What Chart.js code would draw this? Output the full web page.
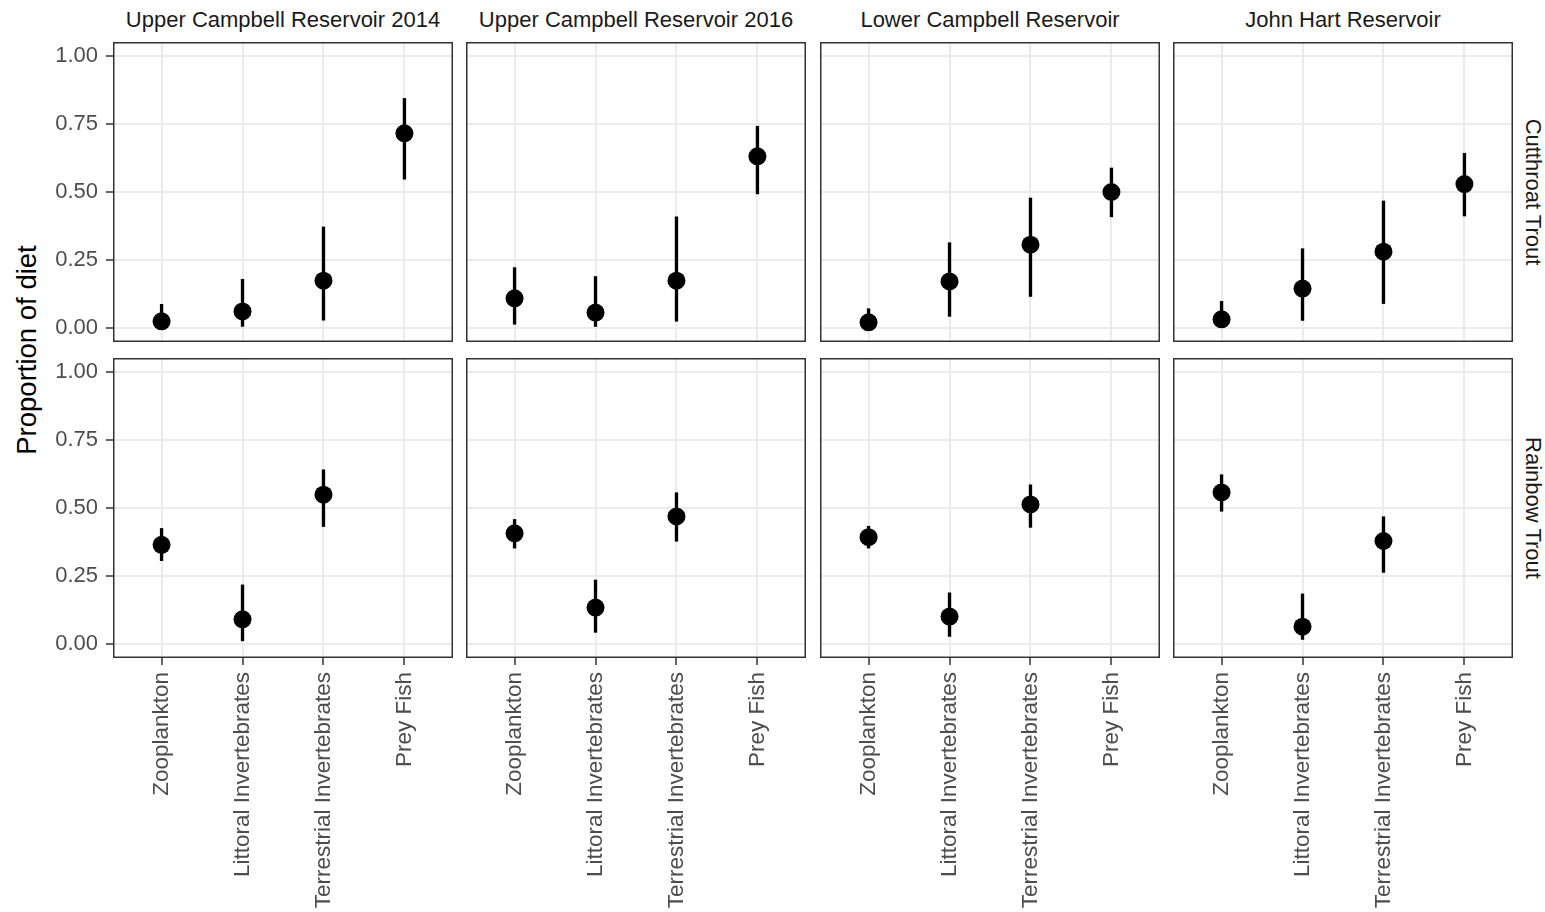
<!DOCTYPE html>
<html>
<head>
<meta charset="utf-8">
<script src="https://cdn.jsdelivr.net/npm/chart.js@4.4.1/dist/chart.umd.min.js"></script>
<style>
  body { margin: 0; background: #fff; width: 1545px; height: 912px; position: relative; overflow: hidden;
         font-family: "Liberation Sans", Arial, sans-serif; }
  canvas { position: absolute; }
  .strip { position: absolute; font-size: 22px; color: #1A1A1A; white-space: nowrap; transform: translate(-50%, -50%); }
  .strip-right { position: absolute; font-size: 22px; color: #1A1A1A; white-space: nowrap; writing-mode: vertical-rl;
                 transform: translate(-50%, -50%); }
  #ytitle { position: absolute; left: 27px; top: 350px; font-size: 27.5px; color: #000; white-space: nowrap;
            writing-mode: vertical-rl; transform: translate(-50%, -50%) rotate(180deg); }
</style>
</head>
<body>
<div id="ytitle">Proportion of diet</div>

<script>
// facets and categories
const sites = ["Upper Campbell Reservoir 2014", "Upper Campbell Reservoir 2016", "Lower Campbell Reservoir", "John Hart Reservoir"];
const species = ["Cutthroat Trout", "Rainbow Trout"];
const preyTypes = ["Zooplankton", "Littoral Invertebrates", "Terrestrial Invertebrates", "Prey Fish"];
const yTicks = [0, 0.25, 0.5, 0.75, 1];

// one row per site, one value per prey type
const cutthroatMean = [
  [0.026, 0.062, 0.175, 0.715],
  [0.110, 0.058, 0.175, 0.631],
  [0.022, 0.172, 0.307, 0.500],
  [0.033, 0.146, 0.281, 0.529]
];
const cutthroatLow = [
  [0.002, 0.007, 0.030, 0.547],
  [0.015, 0.007, 0.026, 0.493],
  [0.002, 0.044, 0.117, 0.409],
  [0.004, 0.029, 0.091, 0.412]
];
const cutthroatHigh = [
  [0.088, 0.180, 0.372, 0.843],
  [0.223, 0.190, 0.409, 0.741],
  [0.072, 0.314, 0.478, 0.588],
  [0.099, 0.292, 0.467, 0.642]
];
const rainbowMean = [
  [0.365, 0.092, 0.549, null],
  [0.407, 0.135, 0.469, null],
  [0.393, 0.102, 0.513, null],
  [0.557, 0.065, 0.379, null]
];
const rainbowLow = [
  [0.307, 0.013, 0.432, null],
  [0.353, 0.044, 0.378, null],
  [0.353, 0.029, 0.429, null],
  [0.488, 0.018, 0.264, null]
];
const rainbowHigh = [
  [0.425, 0.218, 0.640, null],
  [0.458, 0.236, 0.556, null],
  [0.433, 0.189, 0.585, null],
  [0.622, 0.185, 0.468, null]
];

// layout of the panels (px)
const panelLefts = [113, 466, 820, 1173];
const panelTops = [42, 358];
const PANEL_W = 340;
const PANEL_H = 300;
const FONT = "'Liberation Sans', Arial, sans-serif";

// ggplot-like panel border
const borderPlugin = {
  id: "panelBorder",
  afterDraw(chart) {
    const a = chart.chartArea;
    const ctx = chart.ctx;
    ctx.save();
    ctx.strokeStyle = "#333333";
    ctx.lineWidth = 1.5;
    ctx.strokeRect(a.left + 0.75, a.top + 0.75, a.right - a.left - 1.5, a.bottom - a.top - 1.5);
    ctx.restore();
  }
};

function makePanel(row, col) {
  const mean = row === 0 ? cutthroatMean[col] : rainbowMean[col];
  const low = row === 0 ? cutthroatLow[col] : rainbowLow[col];
  const high = row === 0 ? cutthroatHigh[col] : rainbowHigh[col];

  const left = panelLefts[col];
  const top = panelTops[row];
  const axisW = col === 0 ? left : 0;
  const axisH = row === 1 ? 912 - (top + PANEL_H) : 0;

  const canvas = document.createElement("canvas");
  canvas.width = PANEL_W + axisW;
  canvas.height = PANEL_H + axisH;
  canvas.style.left = (left - axisW) + "px";
  canvas.style.top = top + "px";
  document.body.appendChild(canvas);

  const idx = [0, 1, 2, 3].filter(i => mean[i] !== null);
  const points = idx.map(i => ({ x: i + 1, y: mean[i] }));
  const ranges = idx.map(i => ({ x: i + 1, y: [low[i], high[i]] }));

  new Chart(canvas, {
    type: "bar",
    data: {
      datasets: [
        { type: "scatter", data: points, pointRadius: 9, pointBackgroundColor: "#000", pointBorderWidth: 0 },
        { type: "bar", data: ranges, backgroundColor: "#000", barThickness: 2.7 }
      ]
    },
    options: {
      responsive: false,
      animation: false,
      events: [],
      layout: { padding: 0, autoPadding: false },
      plugins: { legend: { display: false }, tooltip: { enabled: false } },
      scales: {
        x: {
          type: "linear",
          min: 0.4,
          max: 4.6,
          offset: false,
          afterBuildTicks: s => { s.ticks = preyTypes.map((p, i) => ({ value: i + 1 })); },
          afterFit: s => { s.height = axisH; s.paddingLeft = 0; s.paddingRight = 0; },
          grid: { offset: false, color: "#EBEBEB", lineWidth: 2, drawTicks: row === 1, tickLength: 7, tickColor: "#333333", tickWidth: 1.5 },
          border: { display: false },
          ticks: {
            display: row === 1,
            autoSkip: false,
            minRotation: 90,
            maxRotation: 90,
            padding: 7,
            color: "#4D4D4D",
            font: { family: FONT, size: 22.5 },
            callback: v => preyTypes[v - 1]
          }
        },
        y: {
          min: -0.05,
          max: 1.05,
          afterBuildTicks: s => { s.ticks = yTicks.map(v => ({ value: v })); },
          afterFit: s => { s.width = axisW; s.paddingTop = 0; s.paddingBottom = 0; },
          grid: { color: "#EBEBEB", lineWidth: 2, drawTicks: col === 0, tickLength: 7, tickColor: "#333333", tickWidth: 1.5 },
          border: { display: false },
          ticks: {
            display: col === 0,
            padding: 8,
            color: "#4D4D4D",
            font: { family: FONT, size: 22 },
            callback: v => v.toFixed(2)
          }
        }
      }
    },
    plugins: [borderPlugin]
  });
}

species.forEach((sp, r) => {
  sites.forEach((site, c) => makePanel(r, c));
  const lab = document.createElement("div");
  lab.className = "strip-right";
  lab.textContent = sp;
  lab.style.left = "1533px";
  lab.style.top = (panelTops[r] + PANEL_H / 2) + "px";
  document.body.appendChild(lab);
});

sites.forEach((site, c) => {
  const lab = document.createElement("div");
  lab.className = "strip";
  lab.textContent = site;
  lab.style.left = (panelLefts[c] + PANEL_W / 2) + "px";
  lab.style.top = "20px";
  document.body.appendChild(lab);
});
</script>
</body>
</html>
